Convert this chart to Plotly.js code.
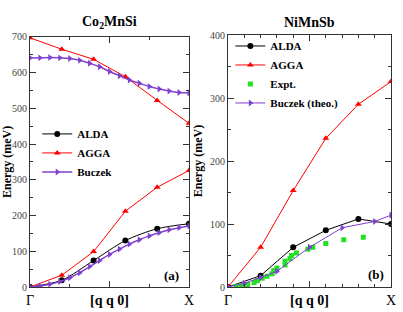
<!DOCTYPE html>
<html>
<head>
<meta charset="utf-8">
<script src="https://cdn.plot.ly/plotly-3.0.1.min.js"></script>
<style>
html,body{margin:0;padding:0;background:#fff;}
#chart{width:403px;height:312px;}
</style>
</head>
<body>
<div id="chart"></div>
<script>
// ---- Co2MnSi (panel a) ----
const coQ = [0, 0.2, 0.4, 0.6, 0.8, 1.0];
const coAlda = [0, 19, 74, 130, 163, 177];
const coAggaLow = [0, 33, 99, 212, 279, 326];
const coAggaUp = [697, 665, 637, 588, 522, 458];
const coBuczekQ = [0, 0.0625, 0.125, 0.1875, 0.25, 0.3125, 0.375, 0.4375, 0.5, 0.5625, 0.625, 0.6875, 0.75, 0.8125, 0.875, 0.9375, 1.0];
const coBuczekLow = [0, 3, 8, 15, 26, 40, 57, 74, 91, 106, 120, 132, 143, 152, 160, 166, 171];
const coBuczekUp = [641, 641, 642, 641, 639, 634, 626, 616, 603, 591, 579, 570, 561, 554, 548, 544, 543];

// ---- NiMnSb (panel b) ----
const niQ = [0, 0.2, 0.4, 0.6, 0.8, 1.0];
const niAlda = [0, 18, 63, 90, 108, 100];
const niAgga = [0, 63, 153, 236, 290, 326];
const niBuczekQ = [0, 0.1, 0.2, 0.3, 0.5, 0.7, 0.9, 1.0];
const niBuczek = [0, 6, 15, 25, 63, 94, 104, 114];
const niExptQ = [0.05, 0.08, 0.12, 0.16, 0.18, 0.21, 0.24, 0.27, 0.28, 0.30, 0.35, 0.35, 0.38, 0.39, 0.42, 0.49, 0.52, 0.60, 0.71, 0.83];
const niExpt = [1, 2, 4, 7, 10, 14, 17, 21, 26, 30, 35, 41, 45, 50, 54, 60, 63, 69, 75, 79];

const xTickVals = [0, 0.5, 1];
const xTickText = ['Γ', '<b>[q q 0]</b>', 'X'];

const BLACK = '#000000', RED = '#ff0000', PURPLE = '#7f3fcf', GREEN = '#22e022';
const SERIF = 'Liberation Serif, Times New Roman, serif';

const traces = [
  // panel a
  {x: coQ, y: coAlda, xaxis: 'x', yaxis: 'y', mode: 'lines+markers', name: '<b>ALDA</b>', legend: 'legend',
   line: {color: BLACK, width: 1, shape: 'spline', smoothing: 0.8}, marker: {symbol: 'circle', size: 6, color: BLACK}},
  {x: coQ, y: coAggaLow, xaxis: 'x', yaxis: 'y', mode: 'lines+markers', name: '<b>AGGA</b>', legend: 'legend',
   line: {color: RED, width: 1}, marker: {symbol: 'triangle-up', size: 6, color: RED}},
  {x: coBuczekQ, y: coBuczekLow, xaxis: 'x', yaxis: 'y', mode: 'lines+markers', name: '<b>Buczek</b>', legend: 'legend',
   line: {color: PURPLE, width: 1.5, shape: 'spline'}, marker: {symbol: 'triangle-right', size: 6, color: PURPLE}},
  {x: coQ, y: coAggaUp, xaxis: 'x', yaxis: 'y', mode: 'lines+markers', showlegend: false,
   line: {color: RED, width: 1}, marker: {symbol: 'triangle-up', size: 6, color: RED}},
  {x: coBuczekQ, y: coBuczekUp, xaxis: 'x', yaxis: 'y', mode: 'lines+markers', showlegend: false,
   line: {color: PURPLE, width: 1.5, shape: 'spline'}, marker: {symbol: 'triangle-right', size: 6, color: PURPLE}},
  // panel b
  {x: niQ, y: niAlda, xaxis: 'x2', yaxis: 'y2', mode: 'lines+markers', name: '<b>ALDA</b>', legend: 'legend2',
   line: {color: BLACK, width: 1}, marker: {symbol: 'circle', size: 6, color: BLACK}},
  {x: niQ, y: niAgga, xaxis: 'x2', yaxis: 'y2', mode: 'lines+markers', name: '<b>AGGA</b>', legend: 'legend2',
   line: {color: RED, width: 1}, marker: {symbol: 'triangle-up', size: 6, color: RED}},
  {x: niExptQ, y: niExpt, xaxis: 'x2', yaxis: 'y2', mode: 'markers', name: '<b>Expt.</b>', legend: 'legend2',
   marker: {symbol: 'square', size: 5, color: GREEN}},
  {x: niBuczekQ, y: niBuczek, xaxis: 'x2', yaxis: 'y2', mode: 'lines+markers', name: '<b>Buczek (theo.)</b>', legend: 'legend2',
   line: {color: PURPLE, width: 1}, marker: {symbol: 'triangle-right', size: 6, color: PURPLE}}
];

const frame = {
  showline: true, linecolor: '#333', linewidth: 1, mirror: 'ticks',
  ticks: 'inside', ticklen: 6, tickwidth: 1, tickcolor: '#333',
  showgrid: false, zeroline: false, fixedrange: true
};

const layout = {
  width: 403, height: 312,
  margin: {l: 30, r: 12, t: 35, b: 25},
  paper_bgcolor: '#fff', plot_bgcolor: '#fff',
  font: {family: SERIF, color: '#000'},
  showlegend: true,
  xaxis: Object.assign({}, frame, {domain: [0, 0.4404], range: [0, 1], anchor: 'y',
    tickvals: xTickVals, ticktext: xTickText, tickfont: {size: 14, family: SERIF, color: '#000'},
    minor: {dtick: 0.25, tick0: 0, ticks: 'inside', ticklen: 3, tickcolor: '#333'}}),
  yaxis: Object.assign({}, frame, {domain: [0, 0.993], range: [0, 700], anchor: 'x',
    dtick: 100, tick0: 0, tickfont: {size: 10, family: SERIF, color: '#444'},
    minor: {dtick: 50, ticks: 'inside', ticklen: 3, tickcolor: '#333'},
    title: {text: '<b>Energy (meV)</b>', font: {size: 12, family: SERIF}, standoff: 4}}),
  xaxis2: Object.assign({}, frame, {domain: [0.5485, 1], range: [0, 1], anchor: 'y2',
    tickvals: xTickVals, ticktext: xTickText, tickfont: {size: 14, family: SERIF, color: '#000'},
    minor: {dtick: 0.1, tick0: 0, ticks: 'inside', ticklen: 3, tickcolor: '#333'}}),
  yaxis2: Object.assign({}, frame, {domain: [0, 1], range: [0, 400], anchor: 'x2',
    dtick: 100, tick0: 0, tickfont: {size: 10, family: SERIF, color: '#444'},
    minor: {dtick: 50, ticks: 'inside', ticklen: 3, tickcolor: '#333'},
    title: {text: '<b>Energy (meV)</b>', font: {size: 12, family: SERIF}, standoff: 4}}),
  legend: {x: 0.02, y: 0.665, xanchor: 'left', yanchor: 'top', bgcolor: 'rgba(0,0,0,0)',
    font: {size: 11, family: SERIF}, itemwidth: 30, tracegroupgap: 0},
  legend2: {x: 0.555, y: 1.014, xanchor: 'left', yanchor: 'top', bgcolor: 'rgba(0,0,0,0)',
    font: {size: 11, family: SERIF}, itemwidth: 30, tracegroupgap: 0},
  annotations: [
    {xref: 'paper', yref: 'paper', x: 0.2202, y: 1.05, xanchor: 'center', yanchor: 'middle', showarrow: false,
     text: '<b>Co<sub>2</sub>MnSi</b>', font: {size: 14, family: SERIF}},
    {xref: 'paper', yref: 'paper', x: 0.774, y: 1.05, xanchor: 'center', yanchor: 'middle', showarrow: false,
     text: '<b>NiMnSb</b>', font: {size: 14, family: SERIF}},
    {xref: 'paper', yref: 'paper', x: 0.393, y: 0.046, xanchor: 'center', yanchor: 'middle', showarrow: false,
     text: '<b>(a)</b>', font: {size: 13, family: SERIF}},
    {xref: 'paper', yref: 'paper', x: 0.958, y: 0.048, xanchor: 'center', yanchor: 'middle', showarrow: false,
     text: '<b>(b)</b>', font: {size: 13, family: SERIF}}
  ]
};

Plotly.newPlot('chart', traces, layout, {staticPlot: true, displayModeBar: false});
</script>
</body>
</html>
